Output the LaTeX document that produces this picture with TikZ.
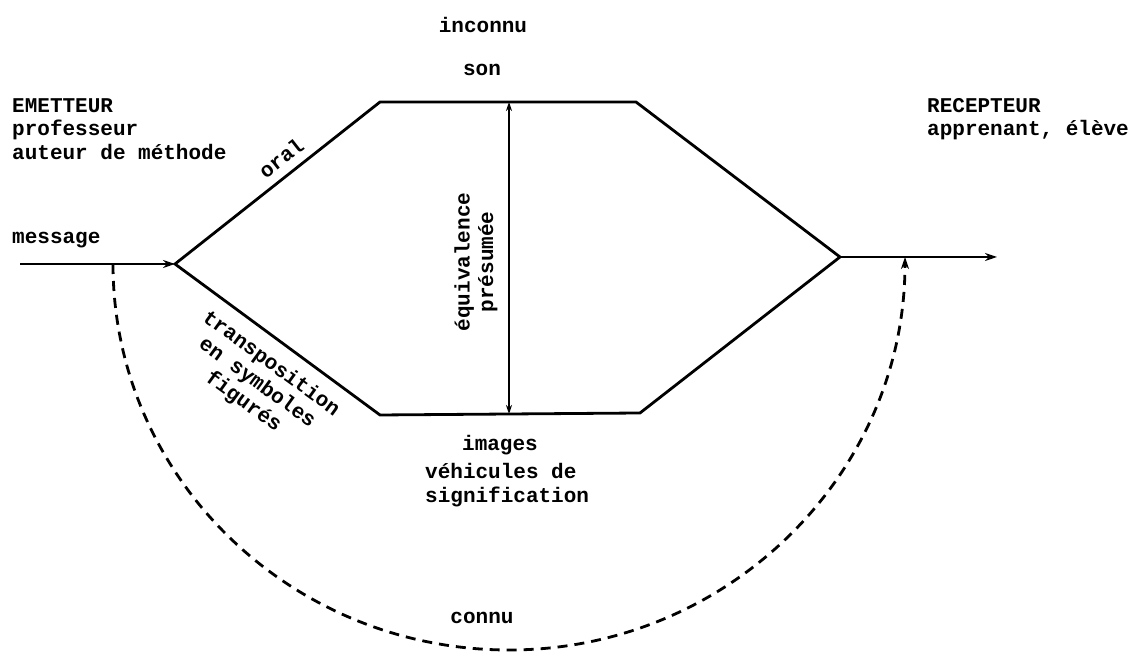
\documentclass[tikz,border=0pt]{standalone}
\usepackage{fontspec}
\setmainfont{Liberation Mono}
\usetikzlibrary{arrows.meta}

\tikzset{
    txt/.style={inner sep=0pt, font=\fontsize{21}{23.5}\selectfont\bfseries},
    path/.style={line width=2.8pt, line join=miter},
    flow/.style={path, -{Stealth[length=12pt, width=8pt]}},
    known/.style={line width=2.8pt, dash pattern=on 10pt off 7pt, -{Stealth[length=12pt, width=8pt]}},
}

\begin{document}
\begin{tikzpicture}[x=1pt, y=1pt]
    \useasboundingbox (0,0) rectangle (1133,660);
    % in/out of the message
    \coordinate (msg) at (20,396);
    \coordinate (split) at (175,396);
    \coordinate (join) at (840,403);
    \coordinate (out) at (997,403);
    % corners of the two channels
    \coordinate (tl) at (380,558);
    \coordinate (tr) at (636,558);
    \coordinate (bl) at (380,245);
    \coordinate (br) at (640,247);
    % equivalence arrow
    \coordinate (eqtop) at (509,558);
    \coordinate (eqbot) at (509,246);
    % dashed path (known)
    \coordinate (dstart) at (113,396);
    \coordinate (dbot) at (509,10);
    \coordinate (dend) at (905,403);

    % texts
    \node[txt] (inconnu) at (483,635) {inconnu};
    \node[txt] (son) at (482,590) {son};
    \node[txt, align=left, anchor=west] (emetteur) at (12,531) {EMETTEUR\\professeur\\auteur de méthode};
    \node[txt, anchor=west] (message) at (12,420) {message};
    \node[txt, align=left, anchor=west] (recepteur) at (927,541) {RECEPTEUR\\apprenant, élève};
    \node[txt, rotate=38] (oral) at (281,502) {oral};
    \node[txt, rotate=-36, align=center] (transpo) at (257,277) {transposition\\en symboles\\figurés};
    \node[txt, rotate=90, align=center] (equiv) at (476,398) {équivalence\\présumée};
    \node[txt] (images) at (500,215) {images};
    \node[txt, align=left, anchor=west] (vehicules) at (425,175) {véhicules de\\signification};
    \node[txt] (connu) at (482,42) {connu};

    % channels
    \draw[flow] (msg) -- (split);
    \draw[path] (split) -- (tl) -- (tr) -- (join) -- (br) -- (bl) -- cycle;
    \draw[flow] (join) -- (out);
    \draw[line width=2.4pt, {Stealth[length=9pt, width=6pt]}-{Stealth[length=9pt, width=6pt]}] (eqtop) -- (eqbot);

    % what is already known
    \draw[known] (dstart) .. controls (113,183) and (290,10) .. (dbot)
        .. controls (728,10) and (905,186) .. (dend);
\end{tikzpicture}
\end{document}
